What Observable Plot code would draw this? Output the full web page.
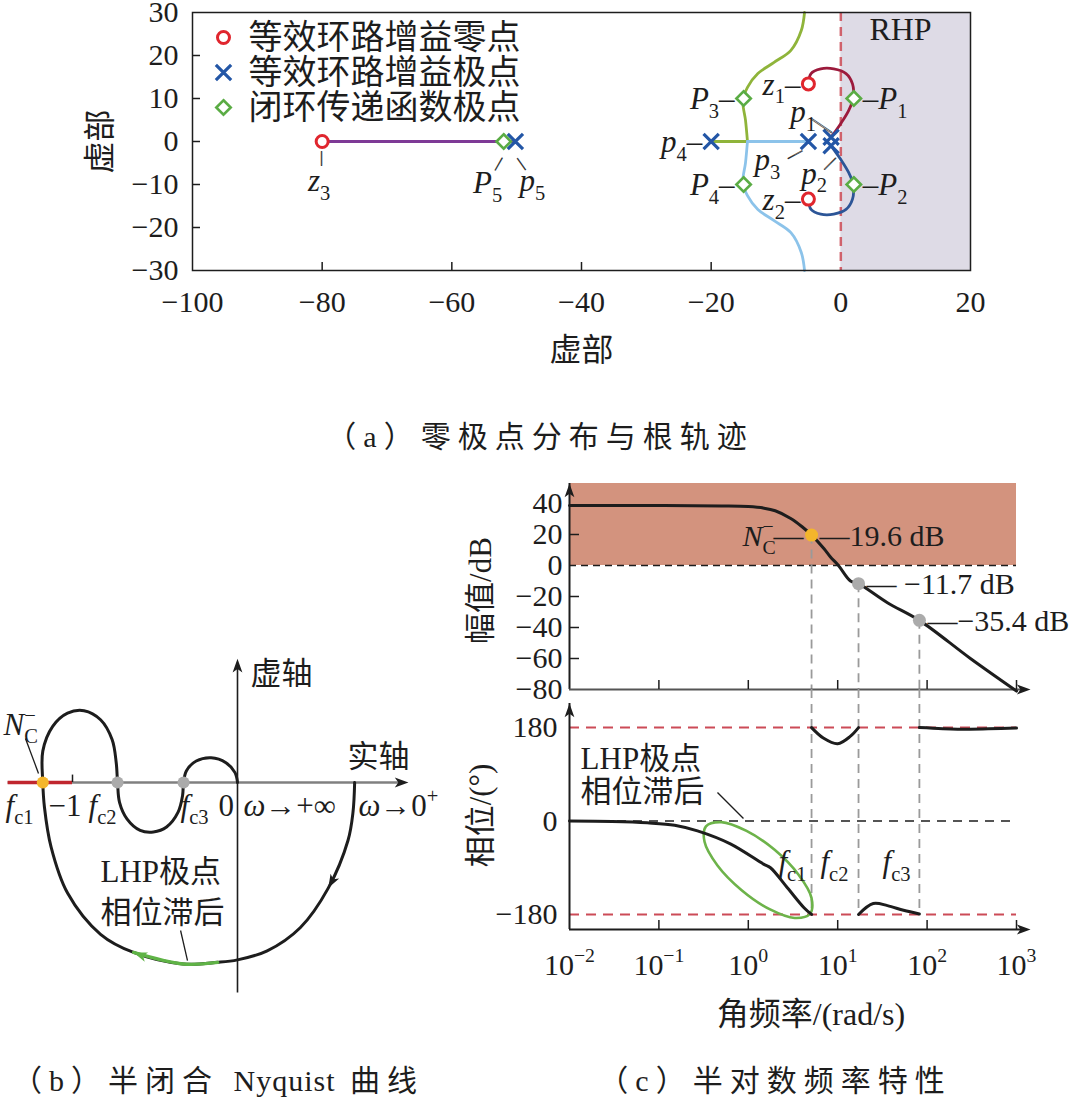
<!DOCTYPE html>
<html><head><meta charset="utf-8">
<script src="https://cdn.jsdelivr.net/npm/d3@7"></script>
<script src="https://cdn.jsdelivr.net/npm/@observablehq/plot@0.6"></script>
<style>
body{margin:0;background:#fff;}
#root{position:relative;width:1070px;height:1098px;overflow:hidden;background:#fff;}
.panel{position:absolute;}
.cap{position:absolute;font-family:"Liberation Serif","Noto Sans CJK SC",serif;font-size:30px;color:#1d1d1d;white-space:nowrap;line-height:30px;letter-spacing:7px;}
.cap .lat{letter-spacing:1px;}
</style></head><body><div id="root"></div>
<script>
// ================= (a) zero/pole map and root locus =================
const zeros = [
  {name: "z1", re: -5, im: 13.4},
  {name: "z2", re: -5, im: -13.4},
  {name: "z3", re: -80, im: 0}
];
const openPoles = [
  {name: "p1", re: -1.5, im: 1},
  {name: "p2", re: -1.5, im: -1},
  {name: "p3", re: -5, im: 0},
  {name: "p4", re: -20, im: 0},
  {name: "p5", re: -50.2, im: 0}
];
const closedPoles = [
  {name: "P1", re: 2, im: 10},
  {name: "P2", re: 2, im: -10},
  {name: "P3", re: -15, im: 10},
  {name: "P4", re: -15, im: -10},
  {name: "P5", re: -52, im: 0}
];
const branchP5 = [[-80, 0], [-50.2, 0]];
const branchP4axis = [[-20, 0], [-14.4, 0]];
const branchP3axis = [[-5, 0], [-14.4, 0]];
const branchUpper = [[-14.4,0],[-14.7,4.9],[-15.1,9.5],[-14.4,12.6],[-12.8,15.8],[-10.3,18.4],[-7.7,21.2],[-6.1,25.8],[-5.6,30]];
const branchLower = [[-14.4,0],[-14.7,-4.9],[-15.1,-9.5],[-14.4,-12.6],[-12.8,-15.8],[-10.3,-18.4],[-7.7,-21.2],[-6.1,-25.8],[-5.6,-30]];
const branchP1 = [[-1.5,1],[0,4.2],[1.2,7.2],[1.9,10],[1.8,13.4],[0.8,15.8],[-1.1,16.9],[-3.1,16.9],[-4.6,15.8],[-5,13.4]];
const branchP2 = [[-1.5,-1],[0,-4.2],[1.2,-7.2],[1.9,-10],[1.8,-13.4],[0.8,-15.8],[-1.1,-16.9],[-3.1,-16.9],[-4.6,-15.8],[-5,-13.4]];
const rhpSpan = [0, 20];
const xTicksA = [-100, -80, -60, -40, -20, 0, 20];
const yTicksA = [-30, -20, -10, 0, 10, 20, 30];
const legendA = ["等效环路增益零点", "等效环路增益极点", "闭环传递函数极点"];
const labelsA = [
  {at: "z1", text: "$z$_{1}–"}, {at: "z2", text: "$z$_{2}–"}, {at: "z3", text: "$z$_{3}"},
  {at: "p1", text: "$p$_{1}"}, {at: "p2", text: "$p$_{2}"}, {at: "p3", text: "$p$_{3}"},
  {at: "p4", text: "$p$_{4}–"}, {at: "p5", text: "$p$_{5}"},
  {at: "P1", text: "–$P$_{1}"}, {at: "P2", text: "–$P$_{2}"}, {at: "P3", text: "$P$_{3}–"},
  {at: "P4", text: "$P$_{4}–"}, {at: "P5", text: "$P$_{5}"}
];

// ================= (b) half-closed Nyquist curve =================
const nyquistCurve = [
  [0.71,0],[0.70,-0.18],[0.67,-0.35],[0.55,-0.64],[0.38,-0.88],[0.18,-1.02],[0,-1.075],[-0.12,-1.09],[-0.33,-1.10],[-0.63,-1.03],[-0.83,-0.92],[-1.03,-0.67],[-1.13,-0.39],[-1.17,-0.15],[-1.18,0],
  [-1.18,0.19],[-1.12,0.34],[-1.03,0.42],[-0.93,0.435],[-0.83,0.38],[-0.76,0.26],[-0.735,0.12],[-0.727,0],
  [-0.715,-0.12],[-0.67,-0.22],[-0.59,-0.29],[-0.51,-0.30],[-0.43,-0.27],[-0.36,-0.18],[-0.333,-0.08],[-0.327,0],
  [-0.31,0.07],[-0.25,0.13],[-0.16,0.15],[-0.07,0.12],[-0.015,0.06],[0,0]
];
const lhpLagArc = [[-0.12,-1.09],[-0.33,-1.10],[-0.63,-1.03]];
const nyqCrossings = [{name: "fc1", re: -1.18}, {name: "fc2", re: -0.727}, {name: "fc3", re: -0.327}];
const nyqUnstable = [-1.39, -1];
const nyqAxisRe = [-1.39, 1.0, 1.036];   // line start, line end, arrow tip
const nyqAxisIm = [-1.276, 0.72, 0.75];
const nyqArrows = [{re: 0.55, im: -0.64, dir: 209, c: "k"}, {re: -0.63, im: -1.03, dir: 290, c: "g"}];
const nyqLabels = [
  {text: "$f$_{c1}", re: -1.406, im: -0.14},
  {text: "−1", re: -1.145, im: -0.14},
  {text: "$f$_{c2}", re: -0.903, im: -0.14},
  {text: "$f$_{c3}", re: -0.345, im: -0.14},
  {text: "0", re: -0.115, im: -0.14},
  {text: "$ω$→+∞", re: 0.036, im: -0.14},
  {text: "$ω$→0^{+}", re: 0.733, im: -0.14},
  {text: "$N$_{C}^{−}", re: -1.418, im: 0.35},
  {text: "虚轴", re: 0.079, im: 0.66},
  {text: "实轴", re: 0.667, im: 0.152},
  {text: "LHP极点", re: -0.83, im: -0.545},
  {text: "相位滞后", re: -0.83, im: -0.794}
];
const nyqLeaders = [
  {re1: -1.285, im1: 0.267, re2: -1.206, im2: 0.055},
  {re1: -0.345, im1: -0.897, re2: -0.303, im2: -1.079}
];

// ================= (c) semi-log frequency response =================
const decades = [0.01, 0.1, 1, 10, 100, 1000];
const magCurve = [[0.01,38.7],[0.1,38.7],[0.5,38.4],[1,38],[1.5,37],[2,35.3],[2.95,30.5],[4,25],[5.1,19.6],[7,11],[8.3,5.5],[10.2,0],[13.9,-10],[17.1,-11.7],[36,-24],[82,-35.4],[305,-60],[1000,-81]];
const crossings = [
  {name: "fc1", w: 5.1, db: 19.6, text: "—19.6 dB"},
  {name: "fc2", w: 17.1, db: -11.7, text: "— −11.7 dB"},
  {name: "fc3", w: 82, db: -35.4, text: "—−35.4 dB"}
];
const magTicks = [40, 20, 0, -20, -40, -60, -80];
const magInnerTicks = [20, -20, -40, -60];
const magTop = 52.9;
const phaseLag = [[0.01,0],[0.03,-1],[0.074,-3.5],[0.15,-8],[0.27,-19],[0.63,-44],[1.48,-83],[1.77,-90],[2.75,-129],[4.2,-167],[5.1,-180]];
const phaseSeg2 = [[5.1,180],[6.9,160],[10,149],[13.8,163],[17.1,180]];
const phaseSeg3 = [[17.1,-180],[25,-159],[36,-163],[54.5,-172],[82,-179]];
const phaseSeg4 = [[82,180],[150,178],[300,177],[1000,179]];
const lagEllipse = [[4.91,-178.6],[3.30,-186.7],[1.73,-169.9],[0.836,-132.8],[0.452,-85.7],[0.324,-40.1],[0.336,-10.2],[0.499,-2.1],[0.955,-19.1],[1.97,-55.5],[3.65,-103.5],[5.09,-148.1]];
const phaseTicks = [180, 0, -180];
const phaseRefs = [180, -180];
const phaseRange = [-209, 253.4, 226.4]; // bottom, top, axis arrow tip
const axisTipW = 1436;
const phaseLabels = [
  {text: "LHP极点", w: 0.0133, deg: 120, anchor: "start"},
  {text: "相位滞后", w: 0.0133, deg: 55, anchor: "start"},
  {text: "$f$_{c1}", w: 3.12, deg: -80, anchor: "middle"},
  {text: "$f$_{c2}", w: 9.2, deg: -80, anchor: "middle"},
  {text: "$f$_{c3}", w: 45.5, deg: -80, anchor: "middle"}
];
const phaseLeader = [{w1: 0.452, d1: 55, w2: 0.883, d2: 5}];

// ================= helpers =================
const FONT = '"Liberation Serif","Noto Sans CJK SC","DejaVu Serif",serif';
const INK = "#1d1d1d";
const SVGNS = "http://www.w3.org/2000/svg";
const arrowHead = {draw(ctx, size) {
  const r = Math.sqrt(size / Math.PI);
  ctx.moveTo(0, 0); ctx.lineTo(0.7 * r, 1.95 * r); ctx.lineTo(0, 1.45 * r); ctx.lineTo(-0.7 * r, 1.95 * r); ctx.closePath();
}};
const baseStyle = {fontFamily: FONT, fontSize: "30px", color: INK, background: "transparent", overflow: "visible"};

function richEl(el) {
  const s = el.textContent;
  if (!/\$|_\{|\^\{/.test(s)) return;
  const fs = parseFloat(getComputedStyle(el).fontSize) || 16;
  while (el.firstChild) el.removeChild(el.firstChild);
  const re = /\$([^$]*)\$|_\{([^}]*)\}|\^\{([^}]*)\}|([^$_^]+)/g;
  let m, shift = 0, prevSub = null;
  while ((m = re.exec(s))) {
    const ts = document.createElementNS(SVGNS, "tspan");
    let target = 0, small = false;
    if (m[1] !== undefined) { ts.textContent = m[1]; ts.setAttribute("font-style", "italic"); }
    else if (m[2] !== undefined) { ts.textContent = m[2]; target = 0.28 * fs; small = true; }
    else if (m[3] !== undefined) { ts.textContent = m[3]; target = -0.42 * fs; small = true; }
    else ts.textContent = m[4];
    if (small) ts.setAttribute("font-size", (0.66 * fs).toFixed(1));
    if (target !== shift) { ts.setAttribute("dy", (target - shift).toFixed(1)); shift = target; }
    el.appendChild(ts);
    if (m[3] !== undefined && prevSub) ts.setAttribute("dx", (-prevSub.getComputedTextLength()).toFixed(1));
    prevSub = m[2] !== undefined ? ts : null;
  }
}
function richify(root) {
  for (const t of root.querySelectorAll("text")) {
    const spans = t.querySelectorAll("tspan");
    if (spans.length) spans.forEach(richEl); else richEl(t);
  }
}
const root = document.getElementById("root");
function place(svg, left, top) {
  svg.classList.add("panel");
  svg.style.left = left + "px"; svg.style.top = top + "px";
  root.appendChild(svg);
  richify(svg);
}
function caption(html, left, top, width, align) {
  const d = document.createElement("div");
  d.className = "cap";
  d.style.left = left + "px"; d.style.top = top + "px"; d.style.width = width + "px"; d.style.textAlign = align;
  d.innerHTML = html;
  root.appendChild(d);
}
const anchored = {textAnchor: "middle", lineAnchor: "middle"};

// ================= panel (a) =================
const pts = Object.fromEntries([...zeros, ...openPoles, ...closedPoles].map(d => [d.name, d]));
const labelLayoutA = {
  z1: {anchor: "end", dx: -8, dy: 1}, z2: {anchor: "end", dx: -8, dy: 1},
  z3: {anchor: "middle", dx: -3, dy: 40},
  p1: {anchor: "middle", dx: -28, dy: -25}, p2: {anchor: "middle", dx: -17, dy: 28},
  p3: {anchor: "middle", dx: -41, dy: 19}, p4: {anchor: "end", dx: -9, dy: 1},
  p5: {anchor: "middle", dx: 17, dy: 40},
  P1: {anchor: "start", dx: 9, dy: 1}, P2: {anchor: "start", dx: 9, dy: 1},
  P3: {anchor: "end", dx: -9, dy: 1}, P4: {anchor: "end", dx: -9, dy: 1},
  P5: {anchor: "middle", dx: -16, dy: 42}
};
const leaderLayoutA = [
  {at: "p1", dx: -8, dy: -13, rotate: 34, size: 24},
  {at: "p2", dx: -2, dy: 17, rotate: -45, size: 16},
  {at: "p3", dx: -14, dy: 12, rotate: -28, size: 16},
  {at: "z3", dx: 0, dy: 17, rotate: 90, size: 14},
  {at: "P5", dx: -6, dy: 22, rotate: -60, size: 14},
  {at: "p5", dx: 7, dy: 22, rotate: 55, size: 14}
];
const legendStyles = [
  {symbol: "circle", stroke: "#e0262e", r: 6, strokeWidth: 3, fill: "white"},
  {symbol: "times", stroke: "#2356a6", r: 7, strokeWidth: 3.2},
  {symbol: "diamond2", stroke: "#5aac44", r: 6.5, strokeWidth: 2.6, fill: "white"}
];
const branch = (d, stroke) => Plot.line(d, {x: p => p[0], y: p => p[1], stroke, strokeWidth: 2.8, curve: "catmull-rom"});

const plotA = Plot.plot({
  width: 1000, height: 380, marginLeft: 192, marginRight: 30, marginTop: 12, marginBottom: 110,
  style: baseStyle,
  x: {domain: [-100, 20]},
  y: {domain: [-30, 30]},
  marks: [
    Plot.rect([rhpSpan], {x1: d => d[0], x2: d => d[1], fill: "#dedbe6"}),
    Plot.ruleX([0], {stroke: "#d0626c", strokeWidth: 2.5, strokeDasharray: "9,6"}),
    Plot.tickX(xTicksA.slice(1, -2), {x: d => d, insetTop: 250, stroke: INK, strokeWidth: 1.5}),
    Plot.tickY(yTicksA.slice(1, -1), {y: d => d, insetRight: 770, stroke: INK, strokeWidth: 1.5}),
    Plot.axisX({ticks: xTicksA, tickSize: 0, tickPadding: 20, label: null}),
    Plot.axisY({ticks: yTicksA, tickSize: 0, tickPadding: 14, label: null}),
    Plot.text(["虚部"], {frameAnchor: "bottom", dy: 80, fontSize: 32, ...anchored}),
    Plot.text(["虚部"], {frameAnchor: "left", dx: -92, rotate: -90, fontSize: 32, ...anchored}),
    branch(branchP5, "#7e3a96"),
    branch(branchP4axis, "#8fb43a"), branch(branchUpper, "#8fb43a"),
    branch(branchP3axis, "#8cc3ea"), branch(branchLower, "#8cc3ea"),
    branch(branchP1, "#9c1a3c"), branch(branchP2, "#2c5597"),
    Plot.dot(zeros, {x: "re", y: "im", ...legendStyles[0]}),
    Plot.dot(openPoles, {x: "re", y: "im", ...legendStyles[1]}),
    Plot.dot(closedPoles, {x: "re", y: "im", ...legendStyles[2]}),
    Plot.frame({stroke: INK, strokeWidth: 1.5}),
    ...legendA.flatMap((label, i) => [
      Plot.dot([label], {frameAnchor: "top-left", dx: 31, dy: 25 + 35 * i, ...legendStyles[i]}),
      Plot.text([label], {frameAnchor: "top-left", dx: 56, dy: 26 + 35 * i, textAnchor: "start", lineAnchor: "middle", fontSize: 34})
    ]),
    Plot.text(["RHP"], {frameAnchor: "top-right", dx: -70, dy: 17, fontSize: 32, ...anchored}),
    ...labelsA.map(l => {
      const o = labelLayoutA[l.at];
      return Plot.text([pts[l.at]], {x: "re", y: "im", text: () => l.text, textAnchor: o.anchor, dx: o.dx, dy: o.dy, fontSize: 31});
    }),
    ...leaderLayoutA.map(o => Plot.text([pts[o.at]], {x: "re", y: "im", text: () => "—", dx: o.dx, dy: o.dy, rotate: o.rotate, fontSize: o.size, stroke: INK, strokeWidth: 0.6}))
  ]
});
place(plotA, 0, 0);
caption("（a）零极点分布与根轨迹", 240, 422, 600, "center");

// ================= panel (b) =================
const U = 165;
const plotB = Plot.plot({
  width: 440, height: 380, margin: 0,
  style: baseStyle,
  x: {domain: [-237 / U, 203 / U], axis: null},
  y: {domain: [-238 / U, 142 / U], axis: null},
  marks: [
    Plot.ruleY([0], {x1: nyqAxisRe[0], x2: nyqAxisRe[1], stroke: "#808080", strokeWidth: 2.4}),
    Plot.ruleY([0], {x1: nyqUnstable[0], x2: nyqUnstable[1], stroke: "#c0262e", strokeWidth: 3.5}),
    Plot.ruleX([nyqUnstable[1]], {y1: 0, y2: 0.045, stroke: INK, strokeWidth: 1.5}),
    Plot.ruleX([0], {y1: nyqAxisIm[0], y2: nyqAxisIm[1], stroke: INK, strokeWidth: 1.6}),
    Plot.dot([0], {x: nyqAxisRe[2], y: 0, symbol: arrowHead, r: 7, rotate: 90, fill: INK, stroke: "none"}),
    Plot.dot([0], {x: 0, y: nyqAxisIm[2], symbol: arrowHead, r: 7, rotate: 0, fill: INK, stroke: "none"}),
    Plot.line(nyquistCurve, {x: d => d[0], y: d => d[1], curve: "catmull-rom", stroke: INK, strokeWidth: 3}),
    Plot.line(lhpLagArc, {x: d => d[0], y: d => d[1], curve: "catmull-rom", stroke: "#5fb346", strokeWidth: 3.4}),
    Plot.dot(nyqArrows, {x: "re", y: "im", rotate: "dir", symbol: arrowHead, r: 7, fill: d => d.c === "g" ? "#5fb346" : INK, stroke: "none"}),
    Plot.dot(nyqCrossings, {x: "re", y: () => 0, r: 6, fill: d => d.name === "fc1" ? "#f4b62c" : "#ababab", stroke: "none"}),
    Plot.link(nyqLeaders, {x1: "re1", y1: "im1", x2: "re2", y2: "im2", stroke: INK, strokeWidth: 1.3}),
    Plot.text(nyqLabels, {x: "re", y: "im", text: "text", textAnchor: "start", fontSize: 31})
  ]
});
place(plotB, 0, 640);
caption('（b）半闭合 <span class="lat">Nyquist</span> 曲线', 12, 1066, 440, "left");

// ================= panel (c) magnitude =================
const magPlot = Plot.plot({
  width: 630, height: 230, marginLeft: 129, marginRight: 54, marginTop: 13, marginBottom: 11,
  style: baseStyle,
  x: {type: "log", domain: [0.01, 1000], axis: null},
  y: {domain: [-80, magTop]},
  marks: [
    Plot.rect([0], {y1: 0, y2: magTop, fill: "#d3937e"}),
    Plot.ruleY([0], {stroke: INK, strokeWidth: 1.6, strokeDasharray: "7,5"}),
    Plot.ruleX(crossings, {x: "w", y1: "db", y2: -80, stroke: "#9a9a9a", strokeWidth: 1.8, strokeDasharray: "9,6"}),
    Plot.ruleX([0.01], {y1: -80, y2: magTop, stroke: INK, strokeWidth: 2}),
    Plot.ruleY([-80], {x1: 0.01, x2: 1300, stroke: "#555", strokeWidth: 2}),
    Plot.dot([0], {x: 0.01, y: magTop, symbol: arrowHead, r: 7, fill: INK, stroke: "none"}),
    Plot.dot([0], {x: axisTipW, y: -80, symbol: arrowHead, r: 7, rotate: 90, fill: INK, stroke: "none"}),
    Plot.tickX(decades.slice(1), {x: d => d, insetTop: 197, stroke: INK, strokeWidth: 1.5}),
    Plot.tickY(magInnerTicks, {y: d => d, insetRight: 437, stroke: INK, strokeWidth: 1.5}),
    Plot.axisY({ticks: magTicks, tickSize: 0, tickPadding: 7, label: null}),
    Plot.text(["幅值/dB"], {frameAnchor: "left", dx: -88, dy: 4, rotate: -90, fontSize: 31, ...anchored}),
    Plot.line(magCurve, {x: d => d[0], y: d => d[1], curve: "catmull-rom", stroke: INK, strokeWidth: 3}),
    Plot.dot(crossings, {x: "w", y: "db", r: 6.5, fill: d => d.name === "fc1" ? "#f4b62c" : "#ababab", stroke: "none"}),
    Plot.text(crossings.slice(0, 1), {x: "w", y: "db", text: () => "$N$_{C}^{−}—", textAnchor: "end", dx: -8, dy: 1, fontSize: 30}),
    Plot.text(crossings, {x: "w", y: "db", text: "text", textAnchor: "start", dx: 8, dy: 1, fontSize: 30})
  ]
});
place(magPlot, 440, 470);

// ================= panel (c) phase =================
const pline = (d, stroke, w) => Plot.line(d, {x: p => p[0], y: p => p[1], curve: "catmull-rom", stroke, strokeWidth: w});
const phasePlot = Plot.plot({
  width: 630, height: 361, marginLeft: 129, marginRight: 54, marginTop: 0, marginBottom: 121,
  style: baseStyle,
  x: {type: "log", domain: [0.01, 1000]},
  y: {domain: [phaseRange[0], phaseRange[1]]},
  marks: [
    Plot.ruleY(phaseRefs, {stroke: "#cc4b57", strokeWidth: 2, strokeDasharray: "10,7"}),
    Plot.ruleY([0], {stroke: INK, strokeWidth: 1.5, strokeDasharray: "9,7"}),
    Plot.ruleX(crossings, {x: "w", y1: phaseRange[1], y2: -180, stroke: "#9a9a9a", strokeWidth: 1.8, strokeDasharray: "9,6"}),
    Plot.ruleX([0.01], {y1: phaseRange[0], y2: phaseRange[2], stroke: INK, strokeWidth: 2}),
    Plot.ruleY([phaseRange[0]], {x1: 0.01, x2: 1300, stroke: INK, strokeWidth: 2}),
    Plot.dot([0], {x: 0.01, y: phaseRange[2], symbol: arrowHead, r: 7, fill: INK, stroke: "none"}),
    Plot.dot([0], {x: axisTipW, y: phaseRange[0], symbol: arrowHead, r: 7, rotate: 90, fill: INK, stroke: "none"}),
    Plot.tickX(decades.slice(1), {x: d => d, insetTop: 231, stroke: INK, strokeWidth: 1.5}),
    Plot.axisX({ticks: decades, tickFormat: d => `10^{${String(Math.round(Math.log10(d))).replace("-", "−")}}`, tickSize: 0, tickPadding: 24, label: null}),
    Plot.axisY({ticks: phaseTicks, tickSize: 0, tickPadding: 12, label: null}),
    Plot.text(["相位/(°)"], {frameAnchor: "left", dx: -88, dy: 6, rotate: -90, fontSize: 31, ...anchored}),
    Plot.text(["角频率/(rad/s)"], {frameAnchor: "bottom", dx: 18, dy: 85, fontSize: 32, ...anchored}),
    Plot.line(lagEllipse, {x: p => p[0], y: p => p[1], curve: "catmull-rom-closed", stroke: "#6db34a", strokeWidth: 2.6}),
    pline(phaseLag, INK, 3), pline(phaseSeg2, INK, 3), pline(phaseSeg3, INK, 3), pline(phaseSeg4, INK, 3),
    Plot.link(phaseLeader, {x1: "w1", y1: "d1", x2: "w2", y2: "d2", stroke: INK, strokeWidth: 1.3}),
    Plot.text(phaseLabels.filter(d => d.anchor === "start"), {x: "w", y: "deg", text: "text", textAnchor: "start", fontSize: 31}),
    Plot.text(phaseLabels.filter(d => d.anchor === "middle"), {x: "w", y: "deg", text: "text", textAnchor: "middle", fontSize: 31})
  ]
});
place(phasePlot, 440, 689);
caption("（c）半对数频率特性", 475, 1066, 600, "center");
</script></body></html>
